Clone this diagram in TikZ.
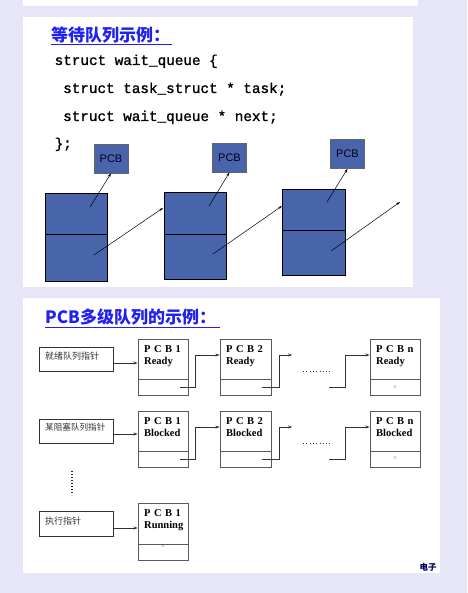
\documentclass[tikz,border=0pt]{standalone}
\usepackage{fontspec}
\setmainfont{Liberation Serif}
\newfontfamily\cjk{Noto Sans CJK SC}
\newfontfamily\monof{Liberation Mono}[FakeBold=1.2]
\newfontfamily\sansf{Liberation Sans}
\usetikzlibrary{arrows.meta}
\definecolor{bg}{RGB}{230,230,248}
\definecolor{boxblue}{RGB}{72,101,172}
\definecolor{titleblue}{RGB}{32,32,240}
\tikzset{
  title/.style={font=\cjk\bfseries\fontsize{17}{17}\selectfont, text=titleblue, anchor=base west, inner sep=0pt},
  codeline/.style={font=\monof\fontsize{14.3}{14.3}\selectfont, anchor=base west, inner sep=0pt},
  pcbtop/.style={draw=black!60, fill=boxblue, line width=0.6pt, minimum width=34pt, minimum height=29pt, inner sep=0pt, font=\sansf\fontsize{11}{11}\selectfont, text=black!90!blue},
  cell/.style={draw=black, fill=boxblue, line width=0.7pt, inner sep=0pt},
  arr/.style={-{Stealth[length=4pt,width=2.6pt]}, line width=0.5pt},
  ptr/.style={draw=black!80, line width=0.8pt, minimum width=74pt, inner sep=0pt},
  ptrtext/.style={font=\cjk\fontsize{9}{9}\selectfont, text=black!80, anchor=west, inner sep=0pt},
  pcb/.style={draw=black!65, line width=0.9pt, minimum width=50pt, inner sep=0pt},
  pcbtxt/.style={font=\bfseries\fontsize{10.5}{10.5}\selectfont, anchor=base west, inner sep=0pt},
  link/.style={line width=0.8pt, draw=black!80, -{Stealth[length=4pt,width=3pt]}},
  nullmark/.style={font=\fontsize{6}{6}\selectfont, inner sep=0pt, text=black!80},
  hdots/.style={line width=1pt, dash pattern=on 1pt off 2.3pt, black!80},
}
\begin{document}
\begin{tikzpicture}[x=1pt,y=-1pt]
\useasboundingbox (0,0) rectangle (467,593);
\fill[bg] (0,0) rectangle (467,593);
\fill[white] (23,0) rectangle (418,6);
\fill[white] (23,17) rectangle (413,287);
\fill[white] (23,298) rectangle (440,573);

% ---------- top part ----------
\node[title] (t1) at (51,42) {等待队列示例：};
\draw[titleblue, line width=1pt] ([yshift=-3pt]t1.base west) -- ([yshift=-3pt,xshift=2pt]t1.base east);
\node[codeline] (c1) at (54.5,65) {struct wait\_queue \{};
\node[codeline] (c2) at (63,93) {struct task\_struct * task;};
\node[codeline] (c3) at (63,121) {struct wait\_queue * next;};
\node[codeline] (c4) at (54.5,148) {\};};

\node[pcbtop] (p1) at (111,158.5) {PCB};
\node[pcbtop] (p2) at (229.5,157.5) {PCB};
\node[pcbtop] (p3) at (347.5,154) {PCB};

\node[cell, minimum width=62pt, minimum height=88pt] (r1) at (76,237) {};
\node[cell, minimum width=62pt, minimum height=87pt] (r2) at (195,235.5) {};
\node[cell, minimum width=63pt, minimum height=86pt] (r3) at (313.5,232) {};
\draw[line width=0.7pt] (45,234) -- (107,234);
\draw[line width=0.7pt] (164,234) -- (226,234);
\draw[line width=0.7pt] (282,230) -- (345,230);

\coordinate (a1) at (90,207);
\coordinate (a2) at (209,206);
\coordinate (a3) at (327,202);
\draw[arr] (a1) -- (p1.south);
\draw[arr] (a2) -- (p2.south);
\draw[arr] (a3) -- (p3.south);

\coordinate (b1) at (94,255);
\coordinate (b2) at (213,254);
\coordinate (b3) at (331,251);
\coordinate (e1) at (163,208);
\coordinate (e2) at (282,206);
\coordinate (e3) at (400,202);
\draw[arr] (b1) -- (e1);
\draw[arr] (b2) -- (e2);
\draw[arr] (b3) -- (e3);

% ---------- bottom part ----------
\node[title] (t2) at (45,323) {PCB多级队列的示例：};
\draw[titleblue, line width=1pt] ([yshift=-4pt]t2.base west) -- ([yshift=-4pt,xshift=4pt]t2.base east);

\node[ptr, minimum height=24pt] (ptr1) at (76,359) {};
\node[ptr, minimum height=24pt] (ptr2) at (76,431) {};
\node[ptr, minimum height=25pt] (ptr3) at (76,523.5) {};
\node[ptrtext] (pt1) at (45,356) {就绪队列指针};
\node[ptrtext, font=\cjk\fontsize{8.6}{8.6}\selectfont] (pt2) at (45,427) {某阻塞队列指针};
\node[ptrtext] (pt3) at (45,521) {执行指针};

\node[pcb, minimum height=56pt] (c11) at (163,367) {};
\node[pcb, minimum height=56pt, minimum width=51pt] (c12) at (245.5,367) {};
\node[pcb, minimum height=56pt] (c1n) at (395,367) {};
\node[pcb, minimum height=56pt] (c21) at (163,439) {};
\node[pcb, minimum height=56pt, minimum width=51pt] (c22) at (245.5,439) {};
\node[pcb, minimum height=56pt] (c2n) at (395,439) {};
\node[pcb, minimum height=57pt] (c31) at (163,531.5) {};

\draw[line width=0.9pt, black!65] (138,379) -- (188,379);
\draw[line width=0.9pt, black!65] (220,379) -- (271,379);
\draw[line width=0.9pt, black!65] (370,379) -- (420,379);
\draw[line width=0.9pt, black!65] (138,451) -- (188,451);
\draw[line width=0.9pt, black!65] (220,451) -- (271,451);
\draw[line width=0.9pt, black!65] (370,451) -- (420,451);
\draw[line width=0.9pt, black!65] (138,544) -- (188,544);

\node[pcbtxt] (x11) at (144,352) {P\,\,C\,\,B\,\,1};
\node[pcbtxt] (y11) at (144,364) {Ready};
\node[pcbtxt] (x12) at (226,352) {P\,\,C\,\,B\,\,2};
\node[pcbtxt] (y12) at (226,364) {Ready};
\node[pcbtxt] (x1n) at (376,352) {P\,\,C\,\,B\,\,n};
\node[pcbtxt] (y1n) at (376,364) {Ready};
\node[pcbtxt] (x21) at (144,424) {P\,\,C\,\,B\,\,1};
\node[pcbtxt] (y21) at (144,436) {Blocked};
\node[pcbtxt] (x22) at (226,424) {P\,\,C\,\,B\,\,2};
\node[pcbtxt] (y22) at (226,436) {Blocked};
\node[pcbtxt] (x2n) at (376,424) {P\,\,C\,\,B\,\,n};
\node[pcbtxt] (y2n) at (376,436) {Blocked};
\node[pcbtxt] (x31) at (144,516) {P\,\,C\,\,B\,\,1};
\node[pcbtxt] (y31) at (144,528) {Running};

\node[nullmark] (n1) at (395,388) {\textasciicircum};
\node[nullmark] (n2) at (395,459) {\textasciicircum};
\node[nullmark] (n3) at (163,547) {\textasciicircum};

% pointer arrows
\draw[link] ([yshift=-4pt]ptr1.east) -- ([yshift=-4pt]ptr1.east -| c11.west);
\draw[link] ([yshift=-3pt]ptr2.east) -- ([yshift=-3pt]ptr2.east -| c21.west);
\draw[link] ([yshift=-4.5pt]ptr3.east) -- ([yshift=-4.5pt]ptr3.east -| c31.west);

% row 1 links
\coordinate (l11) at (180,387);
\coordinate (l12) at (262,387);
\coordinate (l13) at (329,387);
\coordinate (f12) at (292,355);
\draw[link] (l11) -- ++(15,0) |- ([yshift=12pt]c12.west);
\draw[link] (l12) -- ++(17,0) |- (f12);
\draw[link] (l13) -- ++(16,0) |- ([yshift=12pt]c1n.west);
\draw[hdots] (303,371) -- (330,371);

% row 2 links
\coordinate (l21) at (180,459);
\coordinate (l22) at (262,459);
\coordinate (l23) at (329,459);
\coordinate (f22) at (292,427);
\draw[link] (l21) -- ++(15,0) |- ([yshift=12pt]c22.west);
\draw[link] (l22) -- ++(17,0) |- (f22);
\draw[link] (l23) -- ++(16,0) |- ([yshift=12pt]c2n.west);
\draw[hdots] (303,443) -- (330,443);

% vertical dots
\draw[line width=1.3pt, dash pattern=on 1.2pt off 1.8pt, black!85] (72,471) -- (72,495);

\node[font=\cjk\bfseries\fontsize{8.5}{8.5}\selectfont, text=black!60!blue, inner sep=0pt] (ez) at (428,567) {电子};
\end{tikzpicture}
\end{document}
